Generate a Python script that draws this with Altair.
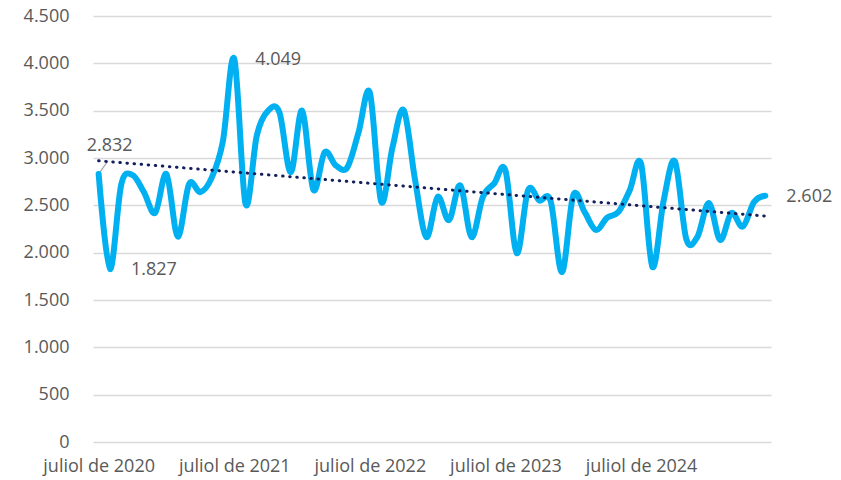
import altair as alt
import pandas as pd

values = [2832, 1827, 2720, 2820, 2640, 2420, 2830, 2170, 2725, 2640,
          2790, 3180, 4049, 2515, 3240, 3500, 3480, 2850, 3500, 2665,
          3060, 2920, 2900, 3270, 3690, 2540, 3110, 3505, 2770, 2165,
          2590, 2345, 2710, 2165, 2590, 2730, 2870, 1995, 2660, 2550,
          2545, 1795, 2605, 2430, 2240, 2370, 2430, 2660, 2940, 1850,
          2550, 2965, 2145, 2170, 2525, 2135, 2420, 2275, 2535, 2602]
month_index = list(range(len(values)))
label_ticks = [0, 12, 24, 36, 48]
y_ticks = [0, 500, 1000, 1500, 2000, 2500, 3000, 3500, 4000, 4500]
labelled_right = [1, 12, 59]
labelled_first = [0]

df = pd.DataFrame({"i": month_index, "v": values})

FONT = "Open Sans"
GREY = "#595959"

x_enc = alt.X("i:Q", scale=alt.Scale(domain=[-0.5, len(values) - 0.5], nice=False, zero=False),
              axis=alt.Axis(values=label_ticks, grid=False, ticks=False, tickSize=0, domain=False,
                            labelExpr="'juliol de ' + (2020 + datum.value / 12)",
                            labelFont=FONT, labelFontSize=18, labelColor=GREY,
                            labelPadding=15, title=None))
y_enc = alt.Y("v:Q", scale=alt.Scale(domain=[0, 4500], nice=False),
              axis=alt.Axis(values=y_ticks, grid=True, gridColor="#d9d9d9", gridWidth=1.3,
                            ticks=False, tickSize=0, domain=False,
                            labelExpr="replace(format(datum.value, ','), ',', '.')",
                            labelFont=FONT, labelFontSize=18, labelColor=GREY,
                            labelPadding=24, title=None))

base = alt.Chart(df)

line = base.mark_line(interpolate="cardinal", color="#00B0F0", strokeWidth=6,
                      strokeCap="round", strokeJoin="round").encode(x=x_enc, y=y_enc)

trend = base.transform_regression("i", "v", method="linear").mark_line(
    color="#13205c", strokeWidth=3, strokeDash=[0.5, 6.6], strokeCap="round"
).encode(x="i:Q", y="v:Q")

fmt = "replace(format(datum.v, ','), ',', '.')"

labels_right = base.transform_filter(
    alt.FieldOneOfPredicate(field="i", oneOf=labelled_right)
).transform_calculate(t=fmt).mark_text(
    align="left", baseline="middle", dx=21, dy=1, font=FONT, fontSize=18, color=GREY
).encode(x="i:Q", y="v:Q", text="t:N")

label_first = base.transform_filter(
    alt.FieldOneOfPredicate(field="i", oneOf=labelled_first)
).transform_calculate(t=fmt).mark_text(
    align="center", baseline="middle", dx=11, dy=-28, font=FONT, fontSize=18, color=GREY
).encode(x="i:Q", y="v:Q", text="t:N")

leader = base.transform_filter(
    alt.FieldOneOfPredicate(field="i", oneOf=labelled_first)
).transform_calculate(i2="datum.i + 0.83", v2="datum.v + 137").mark_rule(
    color="#a6a6a6", strokeWidth=1.2
).encode(x="i:Q", y="v:Q", x2="i2:Q", y2="v2:Q")

chart = alt.layer(leader, line, trend, labels_right, label_first).properties(
    width=678, height=426,
    autosize=alt.AutoSizeParams(type="none"),
    padding={"left": 85, "top": 8, "right": 62, "bottom": 36},
).configure_view(stroke=None)

chart.save("out.html", embed_options={"renderer": "svg", "actions": False})
